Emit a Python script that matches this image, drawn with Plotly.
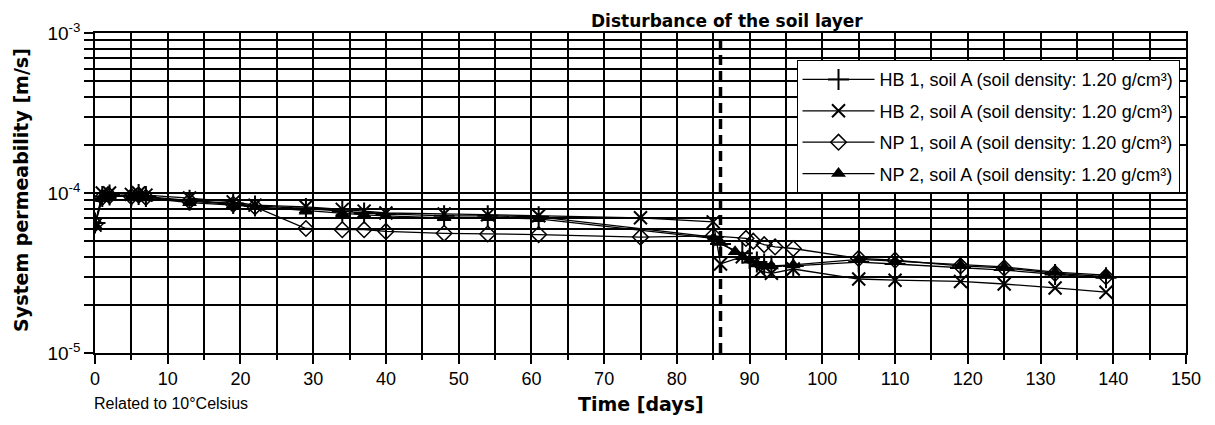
import plotly.graph_objects as go

# ---- data ----
hb1_days = [0, 1, 2, 5, 6, 7, 13, 19, 22, 29, 34, 37, 40, 48, 54, 61, 85, 86, 89, 90, 91, 92, 93, 96, 105, 110, 119, 125, 132, 139]
hb1_vals = [6.5e-5, 9.5e-5, 9.7e-5, 9.6e-5, 9.8e-5, 9.5e-5, 9.0e-5, 8.6e-5, 8.3e-5, 8.0e-5, 7.7e-5, 7.5e-5, 7.4e-5, 7.2e-5, 7.2e-5, 7.1e-5,
            5.3e-5, 4.8e-5, 4.2e-5, 3.9e-5, 3.7e-5, 3.6e-5, 3.5e-5, 3.5e-5, 3.7e-5, 3.6e-5, 3.4e-5, 3.3e-5, 3.1e-5, 2.95e-5]

hb2_days = [0, 1, 2, 5, 6, 7, 13, 19, 22, 29, 34, 37, 40, 48, 54, 61, 75, 85, 86, 89, 91.5, 93, 96, 105, 110, 119, 125, 132, 139]
hb2_vals = [6.3e-5, 1.0e-4, 1.0e-4, 9.8e-5, 1.0e-4, 9.7e-5, 9.3e-5, 8.8e-5, 8.4e-5, 8.2e-5, 7.9e-5, 7.7e-5, 7.5e-5, 7.4e-5, 7.3e-5, 7.2e-5,
            7.0e-5, 6.6e-5, 3.6e-5, 4.0e-5, 3.25e-5, 3.15e-5, 3.35e-5, 2.9e-5, 2.85e-5, 2.8e-5, 2.7e-5, 2.55e-5, 2.4e-5]

np1_days = [0, 1, 2, 5, 6, 7, 13, 19, 22, 29, 34, 37, 40, 48, 54, 61, 75, 85, 89.5, 90.5, 92, 93.5, 96, 105, 110, 119, 125, 132, 139]
np1_vals = [6.4e-5, 9.4e-5, 9.6e-5, 9.5e-5, 9.7e-5, 9.4e-5, 8.9e-5, 8.5e-5, 8.2e-5, 6.0e-5, 5.9e-5, 5.9e-5, 5.75e-5, 5.6e-5, 5.55e-5, 5.5e-5,
            5.3e-5, 5.4e-5, 5.2e-5, 5.0e-5, 4.75e-5, 4.6e-5, 4.5e-5, 3.9e-5, 3.8e-5, 3.5e-5, 3.4e-5, 3.15e-5, 3.0e-5]

np2_days = [0, 1, 2, 5, 6, 7, 13, 19, 22, 29, 34, 37, 40, 48, 54, 61, 85, 86, 88, 89, 90, 91, 92, 93, 96, 105, 110, 119, 125, 132, 139]
np2_vals = [6.3e-5, 9.2e-5, 9.5e-5, 9.5e-5, 9.6e-5, 9.3e-5, 8.7e-5, 8.4e-5, 8.2e-5, 7.7e-5, 7.4e-5, 7.3e-5, 7.2e-5, 7.0e-5, 7.0e-5, 6.9e-5,
            5.2e-5, 4.9e-5, 4.3e-5, 4.0e-5, 3.8e-5, 3.6e-5, 3.5e-5, 3.5e-5, 3.55e-5, 3.85e-5, 3.75e-5, 3.55e-5, 3.45e-5, 3.2e-5, 3.07e-5]

series_names = [
    "HB 1, soil A (soil density: 1.20 g/cm³)",
    "HB 2, soil A (soil density: 1.20 g/cm³)",
    "NP 1, soil A (soil density: 1.20 g/cm³)",
    "NP 2, soil A (soil density: 1.20 g/cm³)",
]
disturbance_day = 86

x_tick_vals = list(range(0, 151, 10))
y_grid_vals = [m * d for d in [1e-5, 1e-4] for m in range(1, 10)] + [1e-3]
y_tick_text = ["10<sup>-5</sup>" if v == 1e-5 else "10<sup>-4</sup>" if v == 1e-4 else "10<sup>-3</sup>" if v == 1e-3 else "" for v in y_grid_vals]

# ---- figure ----
fig = go.Figure()
styles = [
    dict(symbol="cross-thin", size=15, line=dict(width=2, color="black"), color="black"),
    dict(symbol="x-thin", size=13, line=dict(width=2, color="black"), color="black"),
    dict(symbol="diamond-open", size=12, line=dict(width=1.5, color="black"), color="black"),
    dict(symbol="triangle-up", size=13, line=dict(width=0, color="black"), color="black"),
]
data = [(hb1_days, hb1_vals), (hb2_days, hb2_vals), (np1_days, np1_vals), (np2_days, np2_vals)]
for i, ((xd, yd), name, st) in enumerate(zip(data, series_names, styles)):
    fig.add_trace(go.Scatter(
        x=xd, y=yd, name=name, mode="lines+markers",
        line=dict(color="black", width=1.3),
        marker=st, legendgroup=f"g{i}",
    ))

F = "Liberation Sans, Arial, sans-serif"
FB = "DejaVu Sans, Arial Black, sans-serif"

fig.update_layout(
    width=1215, height=425,
    margin=dict(l=87, r=37, t=25, b=80, autoexpand=False),
    paper_bgcolor="white", plot_bgcolor="white",
    font=dict(family=F, size=17, color="black"),
    showlegend=True,
    legend=dict(
        x=0.643, y=0.915, xanchor="left", yanchor="top",
        bgcolor="white", bordercolor="black", borderwidth=1,
        font=dict(family=F, size=18, color="black"),
        traceorder="grouped", tracegroupgap=5,
        itemwidth=72,
    ),
    xaxis=dict(
        range=[0, 150], tickvals=x_tick_vals, ticks="outside", ticklen=9, tickwidth=1.5,
        tickcolor="black", showgrid=True, gridcolor="black", gridwidth=1.5,
        minor=dict(dtick=5, tick0=0, ticks="outside", ticklen=5, tickcolor="black", showgrid=True, gridcolor="black", gridwidth=1.5),
        showline=True, linecolor="black", linewidth=1.5, mirror=True,
        zeroline=False, tickfont=dict(size=18, family=F), automargin=False,
    ),
    yaxis=dict(
        type="log", range=[-5, -3], tickvals=y_grid_vals, ticktext=y_tick_text,
        ticks="outside", ticklen=9, tickwidth=1.5, tickcolor="black",
        showgrid=True, gridcolor="black", gridwidth=1.5,
        showline=True, linecolor="black", linewidth=1.5, mirror=True,
        zeroline=False, tickfont=dict(size=19, family=F), automargin=False,
    ),
    shapes=[dict(type="line", xref="x", yref="paper", x0=disturbance_day, x1=disturbance_day, y0=0, y1=1,
                 line=dict(color="black", width=3.5, dash="10px,6px"))],
    annotations=[
        dict(text="<b>Disturbance of the soil layer</b>", xref="paper", yref="paper", x=0.579, y=1.038,
             xanchor="center", yanchor="middle", showarrow=False, font=dict(family=FB, size=17)),
        dict(text="<b>System permeability [m/s]</b>", xref="paper", yref="paper", x=-0.068, y=0.509,
             textangle=-90, xanchor="center", yanchor="middle", showarrow=False, font=dict(family=FB, size=19)),
        dict(text="<b>Time [days]</b>", xref="paper", yref="paper", x=0.5, y=-0.159,
             xanchor="center", yanchor="middle", showarrow=False, font=dict(family=FB, size=19)),
        dict(text="Related to 10°Celsius", xref="paper", yref="paper", x=-0.003, y=-0.159,
             xanchor="left", yanchor="middle", showarrow=False, font=dict(family=F, size=16)),
    ],
)

fig.write_html("out.html")
